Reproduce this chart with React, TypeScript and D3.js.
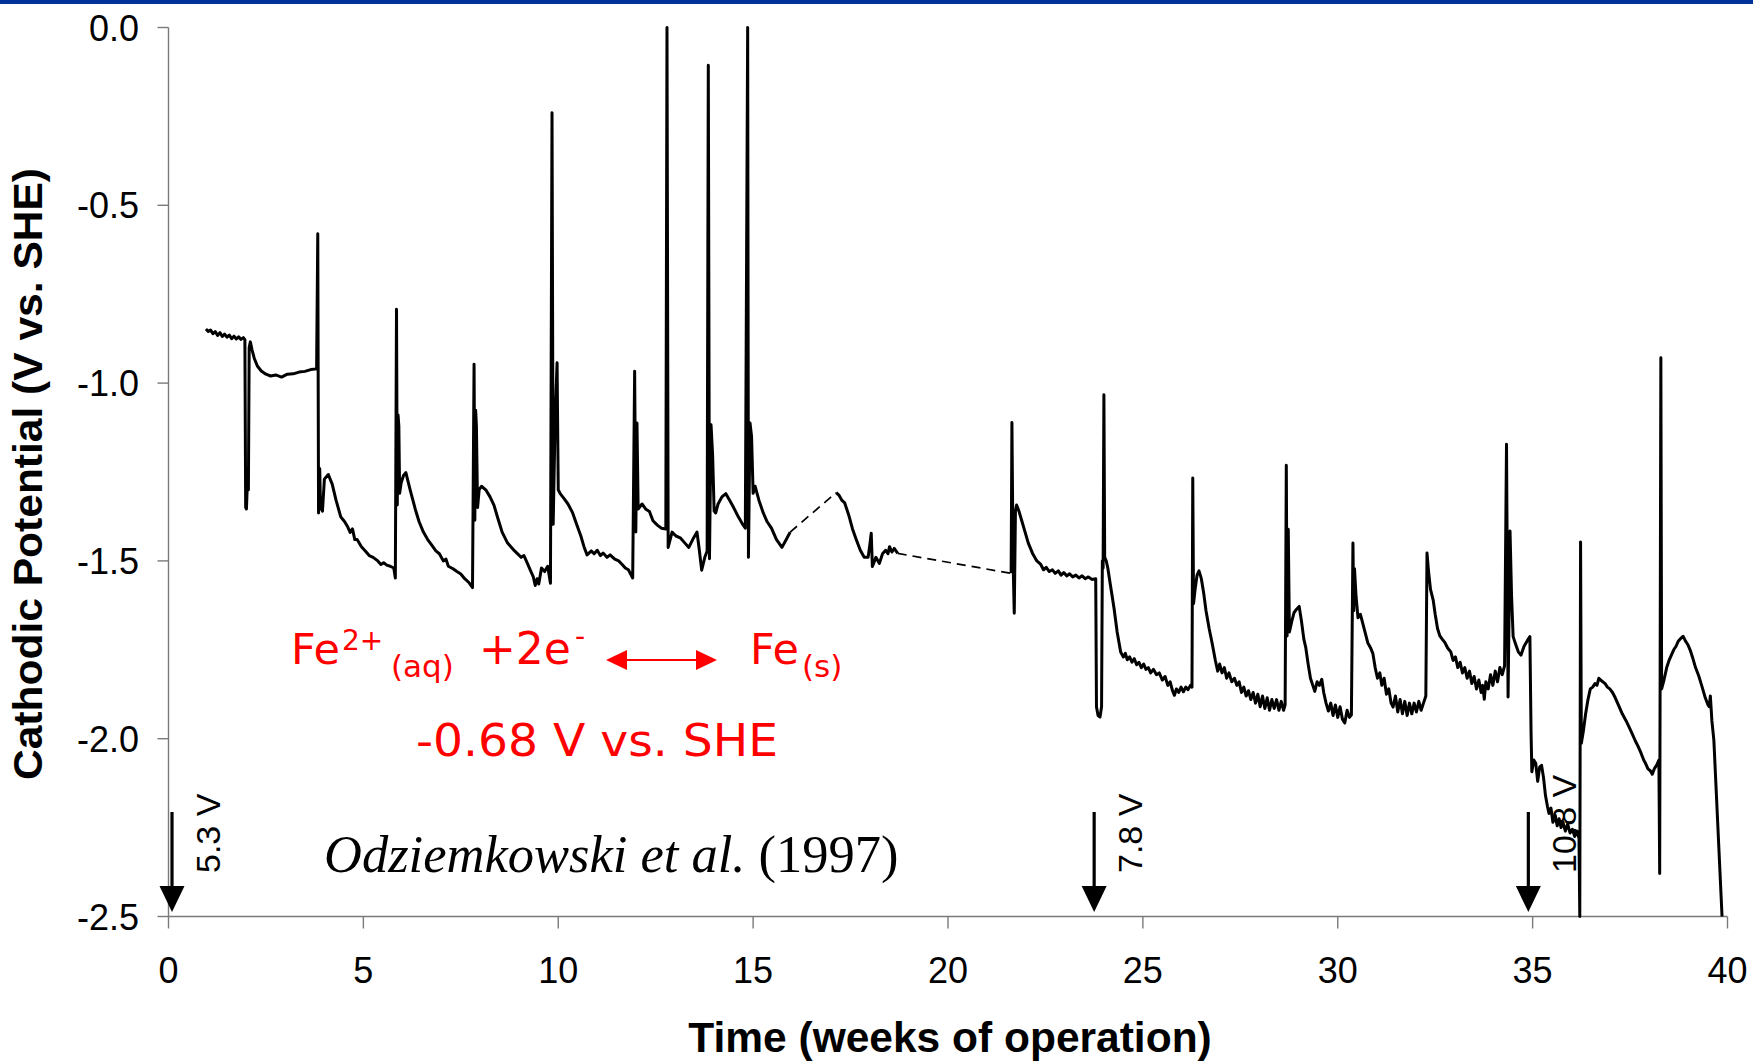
import React from "react";
import * as d3 from "d3";

type P = [number, number];

const W = 1753;
const H = 1061;

const xTicks = [0, 5, 10, 15, 20, 25, 30, 35, 40];
const yTicks = [0, -0.5, -1.0, -1.5, -2.0, -2.5];

// Time (weeks) vs cathodic potential (V vs. SHE)
const seg1: P[] = [
  [0.96, -0.848], [1.02, -0.855], [1.08, -0.851], [1.14, -0.861], [1.2, -0.855], [1.26, -0.866], [1.32, -0.858],
  [1.38, -0.869], [1.44, -0.862], [1.5, -0.871], [1.56, -0.865], [1.62, -0.875], [1.68, -0.868], [1.74, -0.876],
  [1.8, -0.87], [1.86, -0.877], [1.92, -0.872], [1.96, -0.878],
  [1.98, -1.35], [2.0, -1.354], [2.02, -1.29], [2.05, -1.3], [2.07, -0.9], [2.1, -0.884], [2.14, -0.905],
  [2.2, -0.93], [2.28, -0.952], [2.38, -0.966], [2.5, -0.975], [2.62, -0.98], [2.75, -0.977], [2.9, -0.983],
  [3.05, -0.975], [3.2, -0.974], [3.35, -0.969], [3.5, -0.967], [3.65, -0.962], [3.8, -0.96],
  [3.83, -0.58], [3.85, -1.365], [3.88, -1.24], [3.9, -1.35], [3.95, -1.36], [4.0, -1.27], [4.1, -1.257],
  [4.2, -1.284], [4.3, -1.33], [4.42, -1.376], [4.52, -1.39], [4.6, -1.405], [4.66, -1.42], [4.72, -1.41],
  [4.78, -1.44], [4.84, -1.44], [4.95, -1.46], [5.05, -1.472], [5.15, -1.485], [5.25, -1.49], [5.37, -1.5],
  [5.45, -1.51], [5.52, -1.505], [5.6, -1.512], [5.69, -1.515], [5.78, -1.52], [5.82, -1.548],
  [5.85, -0.792], [5.87, -1.343], [5.89, -1.09], [5.91, -1.12], [5.93, -1.31], [5.97, -1.28], [6.03, -1.26],
  [6.09, -1.252], [6.2, -1.3], [6.33, -1.354], [6.43, -1.39], [6.54, -1.419], [6.65, -1.44], [6.75, -1.455],
  [6.86, -1.472], [6.95, -1.48], [7.05, -1.5], [7.12, -1.495], [7.18, -1.515], [7.3, -1.522], [7.4, -1.53],
  [7.5, -1.537], [7.6, -1.55], [7.7, -1.56], [7.8, -1.575],
  [7.84, -0.947], [7.86, -1.386], [7.88, -1.076], [7.9, -1.12], [7.93, -1.35], [7.97, -1.3], [8.03, -1.29],
  [8.14, -1.3], [8.25, -1.32], [8.35, -1.343], [8.45, -1.38], [8.56, -1.419], [8.7, -1.45], [8.88, -1.472],
  [9.05, -1.49], [9.12, -1.485], [9.2, -1.505], [9.3, -1.53], [9.36, -1.545], [9.41, -1.569], [9.46, -1.55],
  [9.5, -1.565], [9.57, -1.52], [9.65, -1.53], [9.73, -1.515], [9.8, -1.563],
  [9.84, -0.24], [9.87, -1.397], [9.92, -1.1], [9.97, -0.943], [10.0, -1.3], [10.05, -1.311], [10.15, -1.325],
  [10.25, -1.34], [10.37, -1.365], [10.48, -1.4], [10.58, -1.43], [10.66, -1.46], [10.74, -1.483],
  [10.85, -1.472], [10.92, -1.48], [11.0, -1.47], [11.08, -1.485], [11.15, -1.478], [11.25, -1.49],
  [11.33, -1.483], [11.45, -1.495], [11.55, -1.5], [11.64, -1.51], [11.72, -1.52], [11.8, -1.525], [11.91, -1.548],
  [11.96, -0.967], [11.99, -1.419], [12.02, -1.112], [12.05, -1.354], [12.15, -1.34], [12.25, -1.355],
  [12.34, -1.361], [12.43, -1.387], [12.55, -1.4], [12.65, -1.408], [12.76, -1.41],
  [12.79, 0], [12.82, -1.462], [12.92, -1.419], [13.02, -1.43], [13.13, -1.435], [13.25, -1.45], [13.35, -1.462],
  [13.45, -1.44], [13.56, -1.419], [13.62, -1.47], [13.68, -1.526], [13.76, -1.49], [13.82, -1.472],
  [13.85, -0.106], [13.88, -1.494], [13.92, -1.117], [13.96, -1.2], [14.0, -1.36], [14.04, -1.365],
  [14.1, -1.34], [14.2, -1.32], [14.3, -1.311], [14.4, -1.33], [14.5, -1.35], [14.62, -1.376], [14.72, -1.395],
  [14.8, -1.408],
  [14.86, 0], [14.88, -1.49], [14.92, -1.112], [14.96, -1.15], [15.0, -1.31], [15.05, -1.29], [15.15, -1.33],
  [15.26, -1.365], [15.36, -1.39], [15.47, -1.408], [15.6, -1.44], [15.74, -1.462], [15.85, -1.44], [15.95, -1.419],
];

const seg2: P[] = [
  [17.13, -1.308], [17.2, -1.315], [17.28, -1.33], [17.35, -1.337], [17.45, -1.37], [17.55, -1.41],
  [17.65, -1.441], [17.75, -1.47], [17.85, -1.49], [17.95, -1.49], [18.0, -1.45], [18.03, -1.422],
  [18.06, -1.516], [18.15, -1.49], [18.24, -1.507], [18.32, -1.48], [18.4, -1.47], [18.46, -1.48],
  [18.5, -1.46], [18.56, -1.475], [18.62, -1.465], [18.71, -1.479],
];

const seg3: P[] = [
  [21.62, -1.535], [21.64, -1.111], [21.67, -1.5], [21.7, -1.647], [21.73, -1.36], [21.76, -1.343],
  [21.82, -1.36], [21.9, -1.39], [21.98, -1.42], [22.06, -1.45], [22.17, -1.479], [22.28, -1.5], [22.38, -1.51],
  [22.45, -1.525], [22.52, -1.518], [22.6, -1.53], [22.68, -1.525], [22.75, -1.535], [22.83, -1.528],
  [22.9, -1.54], [22.97, -1.533], [23.05, -1.542], [23.12, -1.536], [23.2, -1.545], [23.28, -1.54],
  [23.36, -1.548], [23.44, -1.542], [23.52, -1.55], [23.6, -1.545], [23.7, -1.552], [23.79, -1.55],
  [23.81, -1.911], [23.85, -1.935], [23.9, -1.939], [23.94, -1.91], [23.96, -1.5], [23.98, -1.52],
  [24.0, -1.033], [24.02, -1.49], [24.06, -1.5], [24.1, -1.52], [24.17, -1.57], [24.26, -1.633], [24.34, -1.7],
  [24.43, -1.756], [24.5, -1.77], [24.55, -1.76], [24.6, -1.778], [24.66, -1.77], [24.72, -1.785],
  [24.78, -1.775], [24.84, -1.792], [24.9, -1.785], [24.96, -1.8], [25.02, -1.79], [25.08, -1.805],
  [25.14, -1.8], [25.2, -1.815], [25.27, -1.805], [25.35, -1.82], [25.42, -1.815], [25.5, -1.835],
  [25.57, -1.825], [25.64, -1.85], [25.7, -1.84], [25.76, -1.865], [25.81, -1.878], [25.86, -1.86],
  [25.92, -1.87], [25.98, -1.855], [26.04, -1.868], [26.1, -1.855], [26.16, -1.862], [26.22, -1.85], [26.26, -1.855],
  [26.28, -1.267], [26.3, -1.62], [26.34, -1.58], [26.39, -1.54], [26.44, -1.528], [26.5, -1.55], [26.56, -1.59],
  [26.62, -1.64], [26.7, -1.69], [26.78, -1.733], [26.86, -1.78], [26.92, -1.81], [26.97, -1.79],
  [27.03, -1.815], [27.09, -1.8], [27.15, -1.83], [27.21, -1.815], [27.28, -1.84], [27.35, -1.83],
  [27.41, -1.85], [27.47, -1.84], [27.53, -1.87], [27.59, -1.855], [27.65, -1.88], [27.71, -1.865],
  [27.77, -1.89], [27.83, -1.87], [27.89, -1.9], [27.95, -1.875], [28.01, -1.91], [28.07, -1.88],
  [28.13, -1.915], [28.19, -1.885], [28.25, -1.92], [28.31, -1.89], [28.37, -1.915], [28.43, -1.89],
  [28.49, -1.92], [28.55, -1.895], [28.61, -1.92], [28.65, -1.905],
  [28.68, -1.231], [28.7, -1.711], [28.73, -1.411], [28.76, -1.7], [28.82, -1.67], [28.88, -1.645],
  [28.95, -1.635], [29.01, -1.628], [29.07, -1.67], [29.13, -1.72], [29.18, -1.744], [29.24, -1.79],
  [29.3, -1.83], [29.36, -1.85], [29.41, -1.867], [29.47, -1.84], [29.53, -1.85], [29.59, -1.833],
  [29.64, -1.87], [29.7, -1.9], [29.76, -1.922], [29.82, -1.9], [29.88, -1.935], [29.94, -1.905],
  [30.0, -1.94], [30.06, -1.91], [30.12, -1.945], [30.18, -1.956], [30.24, -1.92], [30.3, -1.94], [30.35, -1.933],
  [30.39, -1.45], [30.41, -1.64], [30.43, -1.522], [30.47, -1.6], [30.52, -1.66], [30.58, -1.65],
  [30.64, -1.675], [30.7, -1.7], [30.77, -1.73], [30.84, -1.744], [30.9, -1.76], [30.96, -1.8], [31.02, -1.83],
  [31.08, -1.815], [31.13, -1.85], [31.19, -1.83], [31.25, -1.875], [31.31, -1.86], [31.37, -1.9],
  [31.42, -1.911], [31.48, -1.88], [31.54, -1.925], [31.6, -1.89], [31.66, -1.93], [31.72, -1.895],
  [31.78, -1.935], [31.84, -1.9], [31.9, -1.93], [31.96, -1.9], [32.02, -1.925], [32.08, -1.895],
  [32.14, -1.92], [32.2, -1.9], [32.26, -1.88],
  [32.29, -1.478], [32.33, -1.53], [32.38, -1.58], [32.45, -1.611], [32.5, -1.65], [32.56, -1.69],
  [32.62, -1.711], [32.68, -1.72], [32.75, -1.73], [32.82, -1.745], [32.9, -1.756], [32.96, -1.78],
  [33.02, -1.77], [33.08, -1.8], [33.14, -1.785], [33.2, -1.815], [33.26, -1.8], [33.32, -1.83],
  [33.38, -1.81], [33.44, -1.845], [33.5, -1.825], [33.56, -1.86], [33.62, -1.835], [33.68, -1.87],
  [33.72, -1.85], [33.76, -1.889], [33.8, -1.84], [33.86, -1.86], [33.92, -1.82], [33.98, -1.85],
  [34.04, -1.81], [34.1, -1.84], [34.16, -1.8], [34.22, -1.82], [34.28, -1.795],
  [34.33, -1.172], [34.37, -1.883], [34.42, -1.416], [34.46, -1.6], [34.5, -1.713], [34.56, -1.733],
  [34.63, -1.755], [34.7, -1.765], [34.78, -1.74], [34.86, -1.725], [34.93, -1.713],
  [34.96, -1.985], [34.98, -2.093], [35.03, -2.06], [35.08, -2.069], [35.13, -2.12], [35.18, -2.08],
  [35.23, -2.075], [35.28, -2.11], [35.33, -2.16], [35.38, -2.19], [35.42, -2.21], [35.47, -2.195],
  [35.52, -2.235], [35.58, -2.215], [35.63, -2.245], [35.68, -2.225], [35.73, -2.25], [35.78, -2.235],
  [35.84, -2.26], [35.9, -2.24], [35.96, -2.265], [36.02, -2.255], [36.08, -2.275], [36.14, -2.26], [36.19, -2.28],
  [36.21, -2.5], [36.23, -1.447], [36.25, -2.013], [36.3, -1.98], [36.36, -1.93], [36.42, -1.89],
  [36.48, -1.86], [36.54, -1.855], [36.6, -1.845], [36.65, -1.85], [36.7, -1.83], [36.75, -1.835],
  [36.8, -1.84], [36.86, -1.845], [36.92, -1.855], [36.98, -1.86], [37.05, -1.87], [37.12, -1.885],
  [37.2, -1.905], [37.3, -1.93], [37.4, -1.95], [37.47, -1.966], [37.55, -1.985], [37.63, -2.005],
  [37.7, -2.02], [37.78, -2.04], [37.85, -2.06], [37.9, -2.07], [37.96, -2.085], [38.02, -2.09],
  [38.07, -2.1], [38.12, -2.085], [38.18, -2.075], [38.24, -2.06],
  [38.26, -2.379], [38.29, -0.929], [38.31, -1.86], [38.37, -1.835], [38.44, -1.8], [38.5, -1.78],
  [38.56, -1.765], [38.62, -1.75], [38.68, -1.74], [38.74, -1.725], [38.8, -1.718], [38.86, -1.712],
  [38.92, -1.725], [38.98, -1.735], [39.04, -1.75], [39.1, -1.77], [39.18, -1.8], [39.27, -1.826],
  [39.35, -1.855], [39.43, -1.885], [39.5, -1.905], [39.53, -1.91], [39.56, -1.88], [39.6, -1.95],
  [39.65, -2.004], [39.86, -2.5],
];

// Applied-voltage step markers (week, label)
const stepWeeks = [0.09, 23.75, 34.89];
const stepLabels = ["5.3 V", "7.8 V", "10.8 V"];

const SANS = "'Liberation Sans', Arial, Helvetica, sans-serif";
const SERIF = "'Liberation Serif', 'Times New Roman', serif";
const RED_FONT = "'DejaVu Sans', Verdana, sans-serif";

export default function App() {
  const x = d3.scaleLinear().domain([0, 40]).range([168.5, 1727.5]);
  const y = d3.scaleLinear().domain([-2.5, 0]).range([916.5, 27.5]);
  const line = d3
    .line<P>()
    .x((d) => x(d[0]))
    .y((d) => y(d[1]));

  const gaps: P[][] = [
    [seg1[seg1.length - 1], seg2[0]],
    [seg2[seg2.length - 1], seg3[0]],
  ];

  const axisColor = "#7a7a7a";
  const x0 = x(0);
  const x1 = x(40);
  const yTop = y(0);
  const yBot = y(-2.5);

  return (
    <svg
      width={W}
      height={H}
      viewBox={`0 0 ${W} ${H}`}
      style={{ position: "absolute", left: 0, top: 0, background: "#fff" }}
    >
      <rect x={0} y={0} width={W} height={H} fill="#fff" />
      <rect x={0} y={0} width={W} height={4} fill="#003399" />

      {/* Axes */}
      <line x1={x0} x2={x0} y1={yTop} y2={yBot} stroke={axisColor} strokeWidth={1.4} />
      <line x1={x0} x2={x1} y1={yBot} y2={yBot} stroke={axisColor} strokeWidth={1.4} />
      {yTicks.map((t) => (
        <g key={"y" + t}>
          <line x1={x0 - 11} x2={x0} y1={y(t)} y2={y(t)} stroke={axisColor} strokeWidth={1.4} />
          <text x={139} y={y(t) + 13} textAnchor="end" fontFamily={SANS} fontSize={36} fill="#000">
            {t.toFixed(1)}
          </text>
        </g>
      ))}
      {xTicks.map((t) => (
        <g key={"x" + t}>
          <line x1={x(t)} x2={x(t)} y1={yBot} y2={yBot + 12} stroke={axisColor} strokeWidth={1.4} />
          <text x={x(t)} y={983} textAnchor="middle" fontFamily={SANS} fontSize={36} fill="#000">
            {t}
          </text>
        </g>
      ))}

      {/* Axis titles */}
      <text
        x={950}
        y={1052}
        textAnchor="middle"
        fontFamily={SANS}
        fontWeight="bold"
        fontSize={42.5}
        fill="#000"
      >
        Time (weeks of operation)
      </text>
      <text
        transform={`translate(42,474) rotate(-90)`}
        textAnchor="middle"
        fontFamily={SANS}
        fontWeight="bold"
        fontSize={40}
        textLength={612}
        lengthAdjust="spacingAndGlyphs"
        fill="#000"
      >
        Cathodic Potential (V vs. SHE)
      </text>

      {/* Voltage step arrows */}
      {stepWeeks.map((w, i) => {
        const ax = x(w);
        return (
          <g key={"s" + i}>
            <line x1={ax} x2={ax} y1={812} y2={890} stroke="#000" strokeWidth={3.2} />
            <path d={`M${ax - 12.5},886 L${ax + 12.5},886 L${ax},912 Z`} fill="#000" />
            <text
              transform={`translate(${ax + 48},${873}) rotate(-90)`}
              fontFamily={SANS}
              fontSize={34}
              fill="#000"
            >
              {stepLabels[i]}
            </text>
          </g>
        );
      })}

      {/* Citation */}
      <text x={324} y={872} fontFamily={SERIF} fontSize={52.5} fill="#000">
        <tspan fontStyle="italic">Odziemkowski et al.</tspan> (1997)
      </text>

      {/* Red reaction annotation */}
      <g fill="#ff0000" fontFamily={RED_FONT}>
        <text>
          <tspan x={291} y={664} fontSize={43}>Fe</tspan>
          <tspan x={342} y={650} fontSize={28}>2+</tspan>
          <tspan x={391} y={677} fontSize={31}>(aq)</tspan>
          <tspan x={479} y={664} fontSize={44}>+2e</tspan>
          <tspan x={575} y={646} fontSize={28}>-</tspan>
        </text>
        <line x1={620} x2={703} y1={660} y2={660} stroke="#ff0000" strokeWidth={2} />
        <path d="M606,660 L627,650 L627,670 Z" />
        <path d="M717,660 L696,650 L696,670 Z" />
        <text>
          <tspan x={750} y={664} fontSize={43}>Fe</tspan>
          <tspan x={802} y={677} fontSize={31}>(s)</tspan>
        </text>
        <text
          x={416}
          y={756}
          fontSize={44}
          textLength={362}
          lengthAdjust="spacingAndGlyphs"
        >
          -0.68 V vs. SHE
        </text>
      </g>

      {/* Data */}
      {gaps.map((g, i) => (
        <path
          key={"gap" + i}
          d={line(g) || ""}
          fill="none"
          stroke="#000"
          strokeWidth={1.7}
          strokeDasharray="9,6"
        />
      ))}
      {[seg1, seg2, seg3].map((s, i) => (
        <path
          key={"seg" + i}
          d={line(s) || ""}
          fill="none"
          stroke="#000"
          strokeWidth={3}
          strokeLinejoin="round"
        />
      ))}
    </svg>
  );
}
